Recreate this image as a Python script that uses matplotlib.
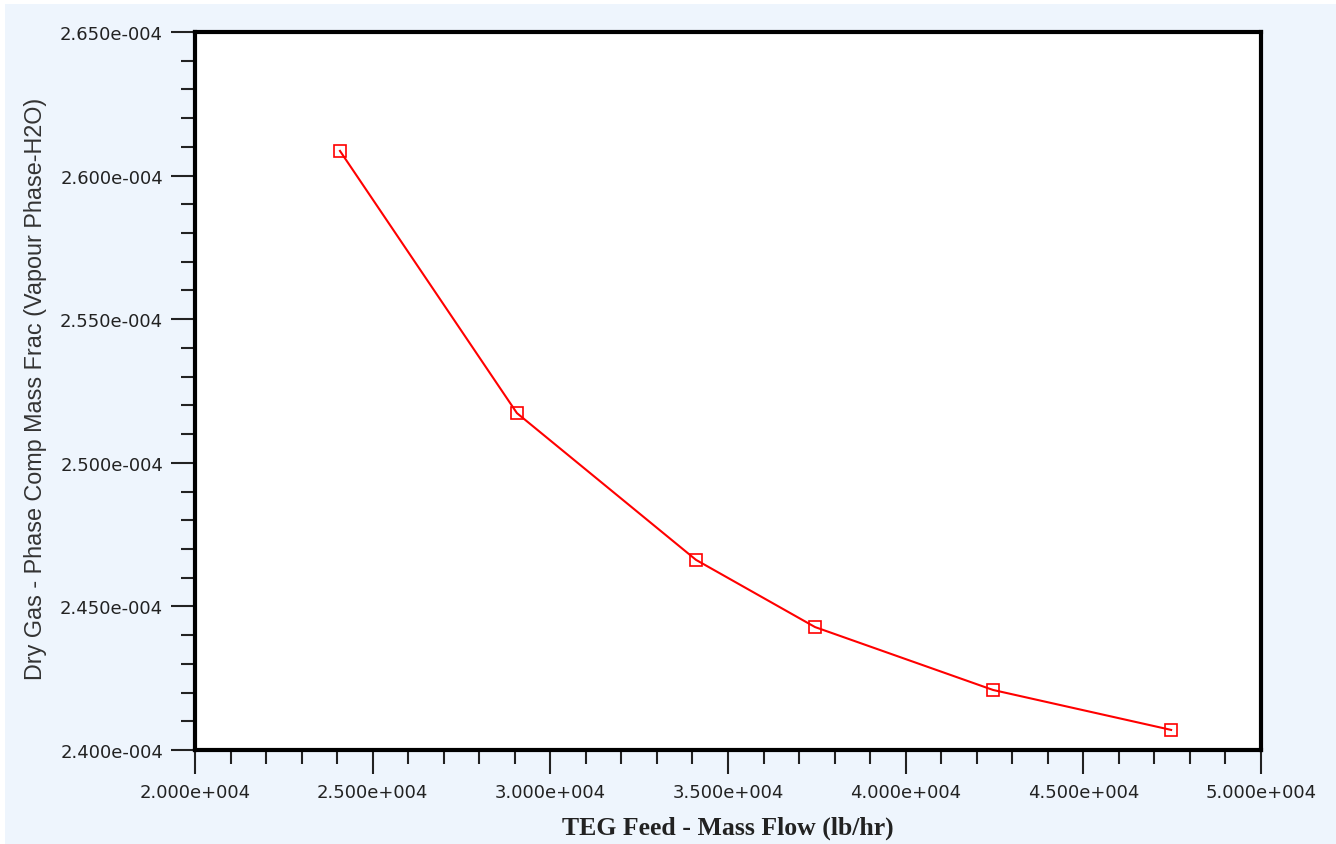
import numpy as np
import matplotlib.pyplot as plt
from matplotlib.patches import Rectangle
from matplotlib.ticker import MultipleLocator, FuncFormatter

# ---------------------------------------------------------------------------
# Data
# ---------------------------------------------------------------------------
teg_flow = [24080, 29060, 34100, 37450, 42460, 47470]             # lb/hr
h2o_frac = [2.6086e-4, 2.5173e-4, 2.4662e-4, 2.4428e-4, 2.4209e-4, 2.4070e-4]

x_label = 'TEG Feed - Mass Flow (lb/hr)'
y_label = 'Dry Gas - Phase Comp Mass Frac (Vapour Phase-H2O)'


def sci_fmt(v, pos):
    # HYSYS style: 2.500e+004
    if v == 0:
        return '0.000e+000'
    exp = int(np.floor(np.log10(abs(v))))
    mant = v / 10**exp
    sign = '+' if exp >= 0 else '-'
    return f'{mant:.3f}e{sign}{abs(exp):03d}'


fig = plt.figure(figsize=(13.36, 8.45), dpi=100)
fig.patch.set_facecolor('white')
# light blue panel behind the plot
fig.patches.append(Rectangle((5 / 1336, 0), 1, 1 - 5 / 845, transform=fig.transFigure,
                             facecolor='#eef5fd', edgecolor='none', zorder=-1))

ax = fig.add_axes([195 / 1336, 1 - 751 / 845, (1261 - 195) / 1336, (751 - 33) / 845])
ax.set_facecolor('white')

ax.plot(teg_flow, h2o_frac, color='#ff0000', linewidth=1.5,
        marker='s', markersize=8, markerfacecolor='none',
        markeredgecolor='#ff0000', markeredgewidth=1.2, clip_on=False)

ax.set_xlim(20000, 50000)
ax.set_ylim(2.40e-4, 2.65e-4)

ax.xaxis.set_major_locator(MultipleLocator(5000))
ax.xaxis.set_minor_locator(MultipleLocator(1000))
ax.yaxis.set_major_locator(MultipleLocator(0.05e-4))
ax.yaxis.set_minor_locator(MultipleLocator(0.01e-4))
ax.xaxis.set_major_formatter(FuncFormatter(sci_fmt))
ax.yaxis.set_major_formatter(FuncFormatter(sci_fmt))

for s in ax.spines.values():
    s.set_linewidth(3)
    s.set_color('black')

ax.tick_params(axis='both', which='major', direction='out', length=17, width=1.5,
               labelsize=13, colors='#222222', pad=6)
ax.tick_params(axis='both', which='minor', direction='out', length=10, width=1.5,
               colors='#222222')
ax.tick_params(axis='x', which='major', pad=7)
for lbl in ax.get_xticklabels() + ax.get_yticklabels():
    lbl.set_family('DejaVu Sans')

ax.set_xlabel(x_label, family='Liberation Serif', fontweight='bold',
              fontsize=18.5, color='#222222', labelpad=10)
ax.set_ylabel(y_label, family='Liberation Sans', fontsize=16.8,
              color='#333333')
ax.yaxis.set_label_coords(-0.1388, 0.505)

fig.savefig('out.png', dpi=100)
